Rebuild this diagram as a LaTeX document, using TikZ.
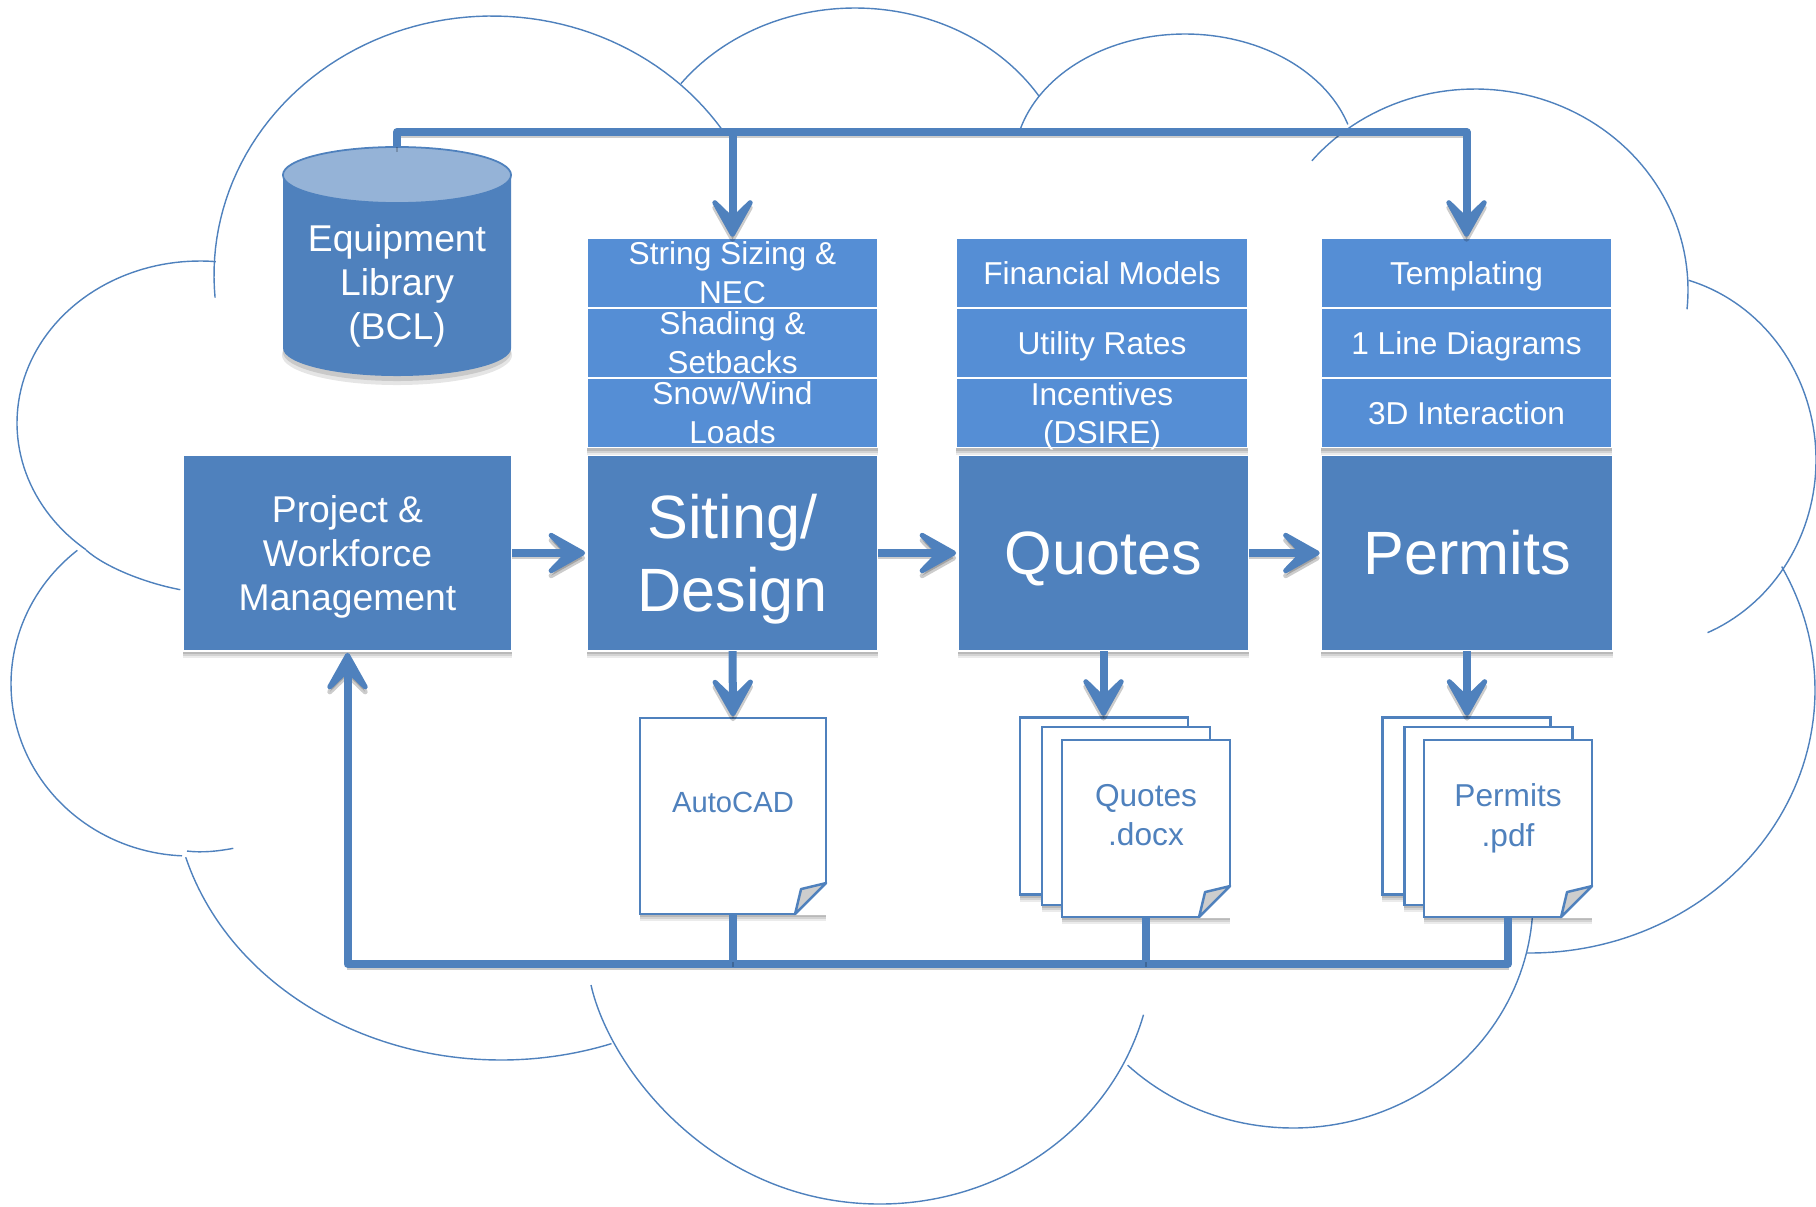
\documentclass[tikz,border=0pt]{standalone}
\usepackage{fontspec}
\setmainfont{Liberation Sans}
\usetikzlibrary{arrows.meta,shadows}
\definecolor{mainblue}{HTML}{4F81BD}
\definecolor{stackblue}{HTML}{558ED5}
\definecolor{topblue}{HTML}{95B3D7}
\definecolor{foldgray}{HTML}{CDCDCD}
\newcommand{\capstrut}{\leavevmode\vrule width 0pt height 0.95em depth 0.234em\relax}
\newcommand{\nodepth}[1]{\raisebox{0pt}[\height][0pt]{#1}}
% centre x, centre y, x radius, y radius, first angle, last angle
\newcommand{\cloudlobe}[6]{
    \draw[cloudline] plot[domain=#5:#6, samples=70] ({#1+#3*cos(\x)},{#2+#4*sin(\x)});
}
\newcommand{\pagefold}[1]{
    \fill[white] (#1.south east) ++(-31,1) -- ++(32,0) -- ++(0,-32) -- cycle;
    \draw[pageline, fill=foldgray, line join=round] (#1.south east) ++(0,-31) -- ++(-25,6) -- ++(-6,25) -- cycle;
}
\begin{document}
\begin{tikzpicture}[
            x = 0.01cm, % one unit is one pixel of the layout
            y = -0.01cm,
            > = {Stealth[length=0.5cm, width=0.56cm, inset=0.27cm, line width=0.05cm, round]}, % arrow head style
            shorten > = 0.5pt, % don't touch arrow head to node
            softshadow/.style = {
                drop shadow={shadow xshift=0pt, shadow yshift=-0.07cm, fill=black, opacity=0.08},
                drop shadow={shadow xshift=0pt, shadow yshift=-0.05cm, fill=black, opacity=0.1},
                drop shadow={shadow xshift=0pt, shadow yshift=-0.03cm, fill=black, opacity=0.12}},
            cloudline/.style = {draw=mainblue, line width=0.4pt},
            pipe/.style = {draw=mainblue, line width=0.08cm, line join=round,
                preaction={draw=black, opacity=0.2, transform canvas={yshift=-0.05cm}}},
            capbox/.style = {execute at begin node=\capstrut, execute at end node=\capstrut}, % single lines only
            mainbox/.style = {rectangle, draw=white, line width=0.5pt, fill=mainblue, text=white, align=center,
                minimum height=1.96cm, inner sep=0pt, outer sep=0pt, softshadow},
            stackbox/.style = {rectangle, draw=white, line width=0.5pt, fill=stackblue, text=white, align=center,
                minimum width=2.91cm, minimum height=0.69cm, inner sep=0pt, outer sep=0pt,
                font=\fontsize{9}{11}\selectfont},
            pageline/.style = {draw=mainblue, line width=0.7pt},
            docpage/.style = {rectangle, pageline, fill=white, inner sep=0pt, outer sep=0pt, softshadow},
            doctext/.style = {text=mainblue, align=center, inner sep=0pt, font=\fontsize{9}{11.2}\selectfont},
            midfont/.style = {font=\fontsize{10.6}{12.6}\selectfont},
            bigfont/.style = {font=\fontsize{17.4}{20.8}\selectfont},
        ]
        \useasboundingbox (0,0) rectangle (1816,1206);
        % cloud outline, lobe by lobe
        \cloudlobe{492}{275}{278}{259}{175}{326}
        \cloudlobe{855}{198}{218}{190}{217}{328}
        \cloudlobe{1185}{164}{171}{130}{196}{343}
        \cloudlobe{1475}{290}{213}{201}{220}{366}
        \cloudlobe{1640}{460}{176}{187}{-74}{68}
        \cloudlobe{1530}{690}{285}{263}{-28}{91}
        \cloudlobe{1293}{900}{240}{228}{4}{134}
        \cloudlobe{501}{780}{328}{280}{164}{70}
        \cloudlobe{190}{684}{179}{172}{231}{92}
        \cloudlobe{200}{423}{183}{162}{275}{128}
        \draw[cloudline] (591,985) .. controls (610,1070) and (715,1204) .. (880,1204)
            .. controls (1000,1204) and (1110,1130) .. (1144,1013);
        \draw[cloudline] (187,851) .. controls (203,853) and (219,851) .. (235,848);
        \draw[cloudline] (86,550) .. controls (105,567) and (145,583) .. (182,590);
        % library cylinder
        \fill[black, opacity=0.1] (397,355) ellipse [x radius=1.15cm, y radius=0.3cm];
        \fill[black, opacity=0.12] (397,352) ellipse [x radius=1.14cm, y radius=0.29cm];
        \fill[mainblue] (283,175) -- (283,348) arc[start angle=180, end angle=360, x radius=1.14cm, y radius=0.28cm] -- (511,175) -- cycle;
        \draw[mainblue, line width=0.5pt, fill=topblue] (397,175) ellipse [x radius=1.14cm, y radius=0.28cm];
        \coordinate (library) at (397,147);
        \node[text=white, align=center, inner sep=0pt, midfont] (librarytext) at (397,282) {Equipment\\Library\\\nodepth{(BCL)}};
        % main row
        \node[mainbox, midfont, minimum width=3.29cm] (project) at (347.5,553) {Project \&\\Workforce\\\nodepth{Management}};
        \node[mainbox, bigfont, minimum width=2.91cm] (siting) at (732.5,553) {Siting/\\\nodepth{Design}};
        \node[mainbox, bigfont, capbox, minimum width=2.91cm] (quotes) at (1103.5,553) {Quotes};
        \node[mainbox, bigfont, capbox, minimum width=2.91cm] (permits) at (1467,553) {Permits};
        % stacks above the main row
        \node[stackbox] (stringsizing) at (732.5,273) {String Sizing \&\\NEC};
        \node[stackbox] (shading) at (732.5,343) {Shading \&\\Setbacks};
        \node[stackbox, softshadow] (snowwind) at (732.5,413) {Snow/Wind\\Loads};
        \node[stackbox, capbox] (financial) at (1102,273) {Financial Models};
        \node[stackbox, capbox] (utility) at (1102,343) {Utility Rates};
        \node[stackbox, softshadow] (incentives) at (1102,413) {Incentives\\\nodepth{(DSIRE)}};
        \node[stackbox, capbox] (templating) at (1466.5,273) {Templating};
        \node[stackbox, capbox] (oneline) at (1466.5,343) {1 Line Diagrams};
        \node[stackbox, capbox, softshadow] (interaction) at (1466.5,413) {3D Interaction};
        % pages below the main row
        \node[docpage, minimum width=1.86cm, minimum height=1.96cm] (autocaddoc) at (733,816) {};
        \node[docpage, minimum width=1.68cm, minimum height=1.77cm] (quotesback) at (1104,806) {};
        \node[docpage, minimum width=1.68cm, minimum height=1.78cm] (quotesmid) at (1126,816) {};
        \node[docpage, minimum width=1.68cm, minimum height=1.77cm] (quotesdoc) at (1146,828.5) {};
        \node[docpage, minimum width=1.68cm, minimum height=1.77cm] (permitsback) at (1466.5,806) {};
        \node[docpage, minimum width=1.68cm, minimum height=1.78cm] (permitsmid) at (1488.5,816) {};
        \node[docpage, minimum width=1.68cm, minimum height=1.77cm] (permitsdoc) at (1508,828.5) {};
        \pagefold{autocaddoc}
        \pagefold{quotesdoc}
        \pagefold{permitsdoc}
        \node[doctext, capbox, font=\fontsize{8.3}{10}\selectfont] (autocadtext) at (733,802) {AutoCAD};
        \node[doctext] (quotestext) at (1146,815) {Quotes\\.docx};
        \node[doctext] (permitstext) at (1508,815) {Permits\\\nodepth{.pdf}};
        % connectors
        \coordinate (topbus) at (732.5,132);
        \coordinate (lowbus) at (733,964);
        \draw[pipe, ->] (library) |- (topbus) -| (templating.north);
        \draw[pipe, ->] (topbus) -- (stringsizing.north);
        \draw[pipe, ->] (project) -- (siting);
        \draw[pipe, ->] (siting) -- (quotes);
        \draw[pipe, ->] (quotes) -- (permits);
        \draw[pipe, ->] (siting.south) -- (autocaddoc.north);
        \draw[pipe, ->] (quotes.south) -- (quotes.south |- quotesback.north);
        \draw[pipe, ->] (permits.south) -- (permits.south |- permitsback.north);
        \draw[pipe, ->] (permitsdoc.south) |- (lowbus) -| (project.south);
        \draw[pipe] (autocaddoc.south) -- (lowbus);
        \draw[pipe] (quotesdoc.south) -- (quotesdoc.south |- lowbus);
\end{tikzpicture}
\end{document}
